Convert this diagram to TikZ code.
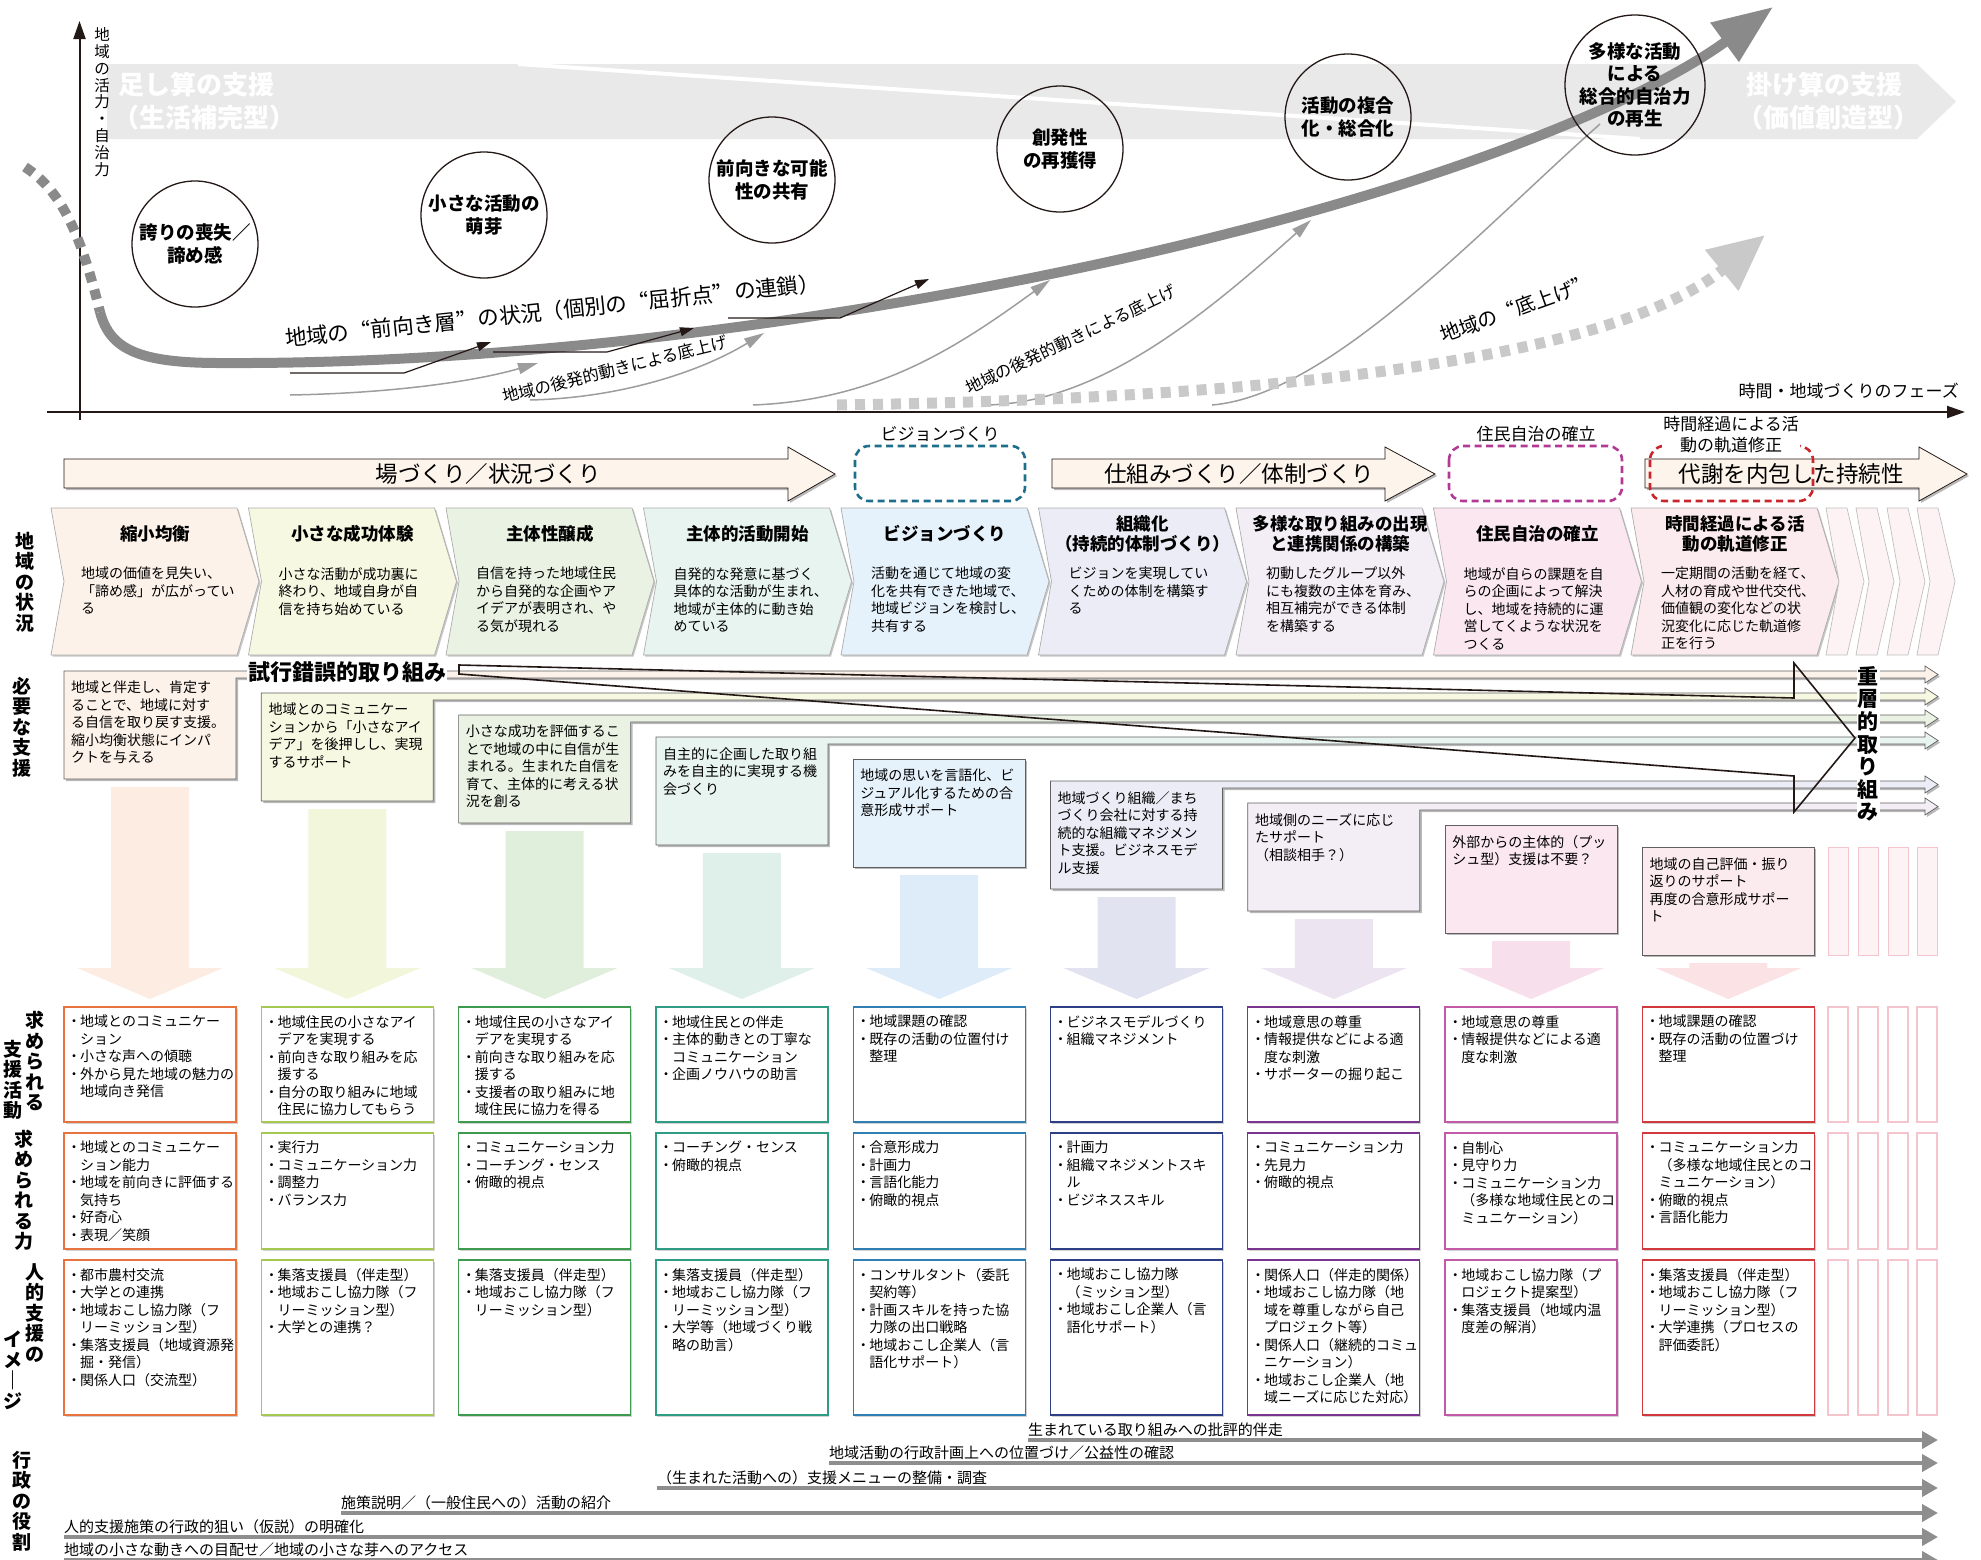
\documentclass[tikz,border=0pt]{standalone}
\usepackage{fontspec}
\setmainfont{Noto Sans CJK JP}
\usetikzlibrary{
    arrows.meta,
    positioning
}
\definecolor{pa1}{HTML}{FDF2EA}
\definecolor{pa2}{HTML}{F6F8E1}
\definecolor{pa3}{HTML}{E9F2E3}
\definecolor{pa4}{HTML}{E8F4EF}
\definecolor{pa5}{HTML}{E6F2FB}
\definecolor{pa6}{HTML}{ECECF6}
\definecolor{pa7}{HTML}{F3EDF6}
\definecolor{pa8}{HTML}{FAE7F0}
\definecolor{pa9}{HTML}{FCEBEE}
\definecolor{pa10}{HTML}{FDF3F5}
\definecolor{bd1}{HTML}{E8733F}
\definecolor{bd2}{HTML}{A5C850}
\definecolor{bd3}{HTML}{3E9A4E}
\definecolor{bd4}{HTML}{2F9C86}
\definecolor{bd5}{HTML}{2F7FB5}
\definecolor{bd6}{HTML}{2F3F85}
\definecolor{bd7}{HTML}{7B3590}
\definecolor{bd8}{HTML}{C25AA8}
\definecolor{bd9}{HTML}{D2393C}
\definecolor{bd10}{HTML}{F4C5CD}
\definecolor{bandc}{HTML}{E9E9E9}
\definecolor{curvec}{HTML}{8A8A8A}
\definecolor{liftc}{HTML}{C9C9C9}
\definecolor{thinc}{HTML}{9D9D9D}
\definecolor{ink}{HTML}{231815}
\definecolor{admc}{HTML}{8E8E8E}
\definecolor{phasefill}{HTML}{FDF4EC}
\definecolor{visionc}{HTML}{1F6E8C}
\definecolor{selfc}{HTML}{B23A95}
\definecolor{revc}{HTML}{C9252C}
\newcommand\dotitem{\makebox[10pt][l]{\hspace*{-3pt}・}}
\newcommand\dotind{\hspace*{10pt}}

\begin{document}
\begin{tikzpicture}[x=1pt,y=-1pt,
    every node/.style={inner sep=0pt},
    circ/.style={circle,draw=ink,line width=1.3pt,minimum size=126pt,align=center,font=\bfseries\fontsize{18.5}{22.5}\selectfont},
    bandtxt/.style={text=white,anchor=west,font=\bfseries\fontsize{26}{30}\selectfont},
    thinarr/.style={draw=thinc,line width=1.5pt,-{Triangle[length=20pt,width=11pt]}},
    kink/.style={draw=ink,line width=1.2pt,-{Triangle[length=14pt,width=9pt]}},
    liftlab/.style={anchor=base west,font=\fontsize{16.5}{20}\selectfont},
    phasetxt/.style={font=\fontsize{22.5}{26}\selectfont},
    dlab/.style={fill=white,inner sep=1pt,align=center,font=\fontsize{17}{21}\selectfont},
    ttl/.style={align=center,font=\bfseries\fontsize{17.5}{19.5}\selectfont},
    body/.style={anchor=north west,align=left,font=\fontsize{14}{17.5}\selectfont},
    rowlab/.style={align=center,font=\bfseries\fontsize{19}{20.5}\selectfont},
    adm/.style={draw=admc,line width=4.5pt,-{Triangle[length=16pt,width=17pt]}},
    admtxt/.style={anchor=base west,font=\fontsize{15}{18}\selectfont}]
\useasboundingbox (0,0) rectangle (1981,1559);

% top chart
\fill[bandc] (107,64) -- (1917,64) -- (1956,101.5) -- (1917,139) -- (107,139) -- cycle;
\draw[white,line width=4pt] (518,64) -- (1640,139);
\node[bandtxt] (addA) at (118,85) {足し算の支援};
\node[bandtxt] (addB) at (113,118) {（生活補完型）};
\node[bandtxt] (mulA) at (1746,85) {掛け算の支援};
\node[bandtxt] (mulB) at (1737,118) {（価値創造型）};

\draw[ink,line width=2pt,-{Triangle[length=18pt,width=12pt]}] (47,412) -- (1965,412);
\draw[ink,line width=2pt,-{Triangle[length=18pt,width=12pt]}] (79.5,420) -- (79.5,21);
\node[align=center,font=\fontsize{15.5}{16.8}\selectfont] (ylab) at (102,102) {地\\域\\の\\活\\力\\・\\自\\治\\力};
\node[anchor=base east,font=\fontsize{17}{20}\selectfont] (xlab) at (1959,397) {時間・地域づくりのフェーズ};

\draw[thinarr] (290,395) .. controls (400,393) and (480,380) .. (538,363);
\draw[thinarr] (530,400) .. controls (620,398) and (700,372) .. (764,333);
\draw[thinarr] (753,405) .. controls (880,400) and (960,345) .. (1050,280);
\draw[thinarr] (983,405) .. controls (1100,405) and (1210,310) .. (1311,220);
\draw[thinc,line width=1.5pt] (1212,405) .. controls (1330,395) and (1480,230) .. (1600,124);

\draw[liftc,line width=11pt,dash pattern=on 10pt off 8pt,-{Triangle[length=56pt,width=50pt]}] (837,405) .. controls (1200,400) and (1600,370) .. (1765,235);
\draw[curvec,line width=10pt,dash pattern=on 10pt off 8pt] (25,167) .. controls (60,190) and (80,230) .. (100,312);
\draw[curvec,line width=10pt,-{Triangle[length=60pt,width=46pt]}] (100,312) .. controls (110,350) and (140,363) .. (220,363) .. controls (600,365) and (1000,292) .. (1230,233) .. controls (1450,178) and (1640,104) .. (1773,7);

\node[circ] (c1) at (195,244) {誇りの喪失／\\諦め感};
\node[circ] (c2) at (484,215) {小さな活動の\\萌芽};
\node[circ] (c3) at (772,180) {前向きな可能\\性の共有};
\node[circ] (c4) at (1060,149) {創発性\\の再獲得};
\node[circ] (c5) at (1348,117) {活動の複合\\化・総合化};
\node[circ] (c6) at (1635,85) {多様な活動\\による\\総合的自治力\\の再生};

\draw[kink] (290,373) -- (404,373) -- (491,342);
\draw[kink] (493,352) -- (607,352) -- (694,328);
\draw[kink] (728,318) -- (840,318) -- (929,279);

\node[anchor=base west,rotate=6,font=\fontsize{21.5}{24}\selectfont\addfontfeatures{CharacterWidth=Full}] (front) at (286,347) {地域の“前向き層”の状況（個別の“屈折点”の連鎖）};
\node[liftlab,rotate=13.8] (late1) at (504,403) {地域の後発的動きによる底上げ};
\node[liftlab,rotate=25.5] (late2) at (969,395) {地域の後発的動きによる底上げ};
\node[liftlab,rotate=19.7,font=\fontsize{20}{24}\selectfont\addfontfeatures{CharacterWidth=Full}] (lift) at (1443,343) {地域の“底上げ”};

% phases
\foreach \a/\b/\tp/\m/\txt [count=\k] in {64/788/835/488/場づくり／状況づくり,1052/1385/1435/1239/仕組みづくり／体制づくり,1645/1919/1967/1791/代謝を内包した持続性}{
    \fill[gray!55,shift={(2,2)}] (\a,459) -- (\b,459) -- (\b,447) -- (\tp,474) -- (\b,501) -- (\b,488) -- (\a,488) -- cycle;
    \filldraw[fill=phasefill,draw=ink,line width=0.8pt] (\a,459) -- (\b,459) -- (\b,447) -- (\tp,474) -- (\b,501) -- (\b,488) -- (\a,488) -- cycle;
    \node[phasetxt] (ph\k) at (\m,474) {\txt};
}
\draw[visionc,line width=2.6pt,dash pattern=on 7pt off 4.5pt,rounded corners=14pt] (855,446) rectangle (1025,501);
\draw[selfc,line width=2.6pt,dash pattern=on 7pt off 4.5pt,rounded corners=14pt] (1449,446) rectangle (1622,501);
\draw[revc,line width=2.6pt,dash pattern=on 7pt off 4.5pt,rounded corners=14pt] (1650,446) rectangle (1813,501);
\node[dlab] (dvision) at (940,434) {ビジョンづくり};
\node[dlab] (dself) at (1536,434) {住民自治の確立};
\node[dlab] (drev) at (1731,434.5) {時間経過による活\\動の軌道修正};

% status chevrons
\foreach \i/\col/\hd/\txt in {
    0/pa1/{縮小均衡}/{地域の価値を見失い、\\「諦め感」が広がってい\\る},
    1/pa2/{小さな成功体験}/{小さな活動が成功裏に\\終わり、地域自身が自\\信を持ち始めている},
    2/pa3/{主体性醸成}/{自信を持った地域住民\\から自発的な企画やア\\イデアが表明され、や\\る気が現れる},
    3/pa4/{主体的活動開始}/{自発的な発意に基づく\\具体的な活動が生まれ、\\地域が主体的に動き始\\めている},
    4/pa5/{ビジョンづくり}/{活動を通じて地域の変\\化を共有できた地域で、\\地域ビジョンを検討し、\\共有する},
    5/pa6/{組織化\\（持続的体制づくり）}/{ビジョンを実現してい\\くための体制を構築す\\る},
    6/pa7/{多様な取り組みの出現\\と連携関係の構築}/{初動したグループ以外\\にも複数の主体を育み、\\相互補完ができる体制\\を構築する},
    7/pa8/{住民自治の確立}/{地域が自らの課題を自\\らの企画によって解決\\し、地域を持続的に運\\営してくような状況を\\つくる},
    8/pa9/{時間経過による活\\動の軌道修正}/{一定期間の活動を経て、\\人材の育成や世代交代、\\価値観の変化などの状\\況変化に応じた軌道修\\正を行う}}{
    \pgfmathsetmacro\cx{51+197.5*\i}
    \fill[gray!45,shift={(1.5,1.5)}] (\cx,508) -- ++(186,0) -- ++(22,73.5) -- ++(-22,73.5) -- ++(-186,0) -- ++(13,-73.5) -- cycle;
    \filldraw[fill=\col,draw=gray!65,line width=0.7pt] (\cx,508) -- ++(186,0) -- ++(22,73.5) -- ++(-22,73.5) -- ++(-186,0) -- ++(13,-73.5) -- cycle;
    \node[ttl] (st\i) at (\cx+104,534) {\hd};
    \node[body] (sb\i) at (\cx+30,567) {\txt};
}
\foreach \cx in {1826,1856,1887,1917}{
    \filldraw[fill=pa10,draw=gray!50,line width=0.7pt] (\cx,508) -- ++(21,0) -- ++(17,73.5) -- ++(-17,73.5) -- ++(-21,0) -- ++(13,-73.5) -- cycle;
}

% column arrows
\foreach \i/\col/\bdc in {0/pa1/bd1,1/pa2/bd2,2/pa3/bd3,3/pa4/bd4,4/pa5/bd5,5/pa6/bd6,6/pa7/bd7,7/pa8/bd8,8/pa9/bd9}{
    \pgfmathsetmacro\ax{150+197.3*\i}
    \pgfmathsetmacro\ay{671+22*\i+116}
    \fill[\col!95!\bdc] (\ax-39,\ay) -- (\ax+39,\ay) -- (\ax+39,968) -- (\ax+73,968) -- (\ax,999) -- (\ax-73,968) -- (\ax-39,968) -- cycle;
}

% needed support
\foreach \i/\col/\bd/\txt in {
    0/pa1/1/{地域と伴走し、肯定す\\ることで、地域に対す\\る自信を取り戻す支援。\\縮小均衡状態にインパ\\クトを与える},
    1/pa2/1/{地域とのコミュニケー\\ションから「小さなアイ\\デア」を後押しし、実現\\するサポート},
    2/pa3/1/{小さな成功を評価するこ\\とで地域の中に自信が生\\まれる。生まれた自信を\\育て、主体的に考える状\\況を創る},
    3/pa4/1/{自主的に企画した取り組\\みを自主的に実現する機\\会づくり},
    4/pa5/0/{地域の思いを言語化、ビ\\ジュアル化するための合\\意形成サポート},
    5/pa6/1/{地域づくり組織／まち\\づくり会社に対する持\\続的な組織マネジメン\\ト支援。ビジネスモデ\\ル支援},
    6/pa7/1/{地域側のニーズに応じ\\たサポート\\（相談相手？）},
    7/pa8/0/{外部からの主体的（プッ\\シュ型）支援は不要？},
    8/pa9/0/{地域の自己評価・振り\\返りのサポート\\再度の合意形成サポー\\ト}}{
    \pgfmathsetmacro\bx{64+197.3*\i}
    \pgfmathsetmacro\by{671+22*\i}
    \ifnum\bd=1
        \fill[gray!55,shift={(2,2)}] (\bx,\by+108) -- (\bx,\by) -- (1925,\by) -- (1925,\by-5) -- (1938,\by+3.5) -- (1925,\by+12) -- (1925,\by+7) -- (\bx+172,\by+7) -- (\bx+172,\by+108) -- cycle;
        \filldraw[fill=\col,draw=gray!75!black,line width=0.7pt] (\bx,\by+108) -- (\bx,\by) -- (1925,\by) -- (1925,\by-5) -- (1938,\by+3.5) -- (1925,\by+12) -- (1925,\by+7) -- (\bx+172,\by+7) -- (\bx+172,\by+108) -- cycle;
    \else
        \fill[gray!55,shift={(2,2)}] (\bx,\by) rectangle ++(172,108);
        \filldraw[fill=\col,draw=gray!75!black,line width=0.7pt] (\bx,\by) rectangle ++(172,108);
    \fi
    \node[body] (nb\i) at (\bx+7,\by+10) {\txt};
}
\foreach \nx in {1828,1858,1888,1917}{
    \filldraw[fill=pa10,draw=bd10,line width=1pt] (\nx,847) rectangle ++(20,108);
}
\node[fill=white,inner sep=1pt,font=\bfseries\fontsize{22}{24}\selectfont] (trial) at (347,672) {試行錯誤的取り組み};
\draw[ink,line width=1.6pt] (459,674) -- (459,665) -- (1794,698) -- (1794,663) -- (1855,738) -- (1794,812) -- (1794,776) -- cycle;
\node[fill=white,inner sep=1pt,align=center,font=\bfseries\fontsize{21}{22.6}\selectfont] (layer) at (1868,744) {重\\層\\的\\取\\り\\組\\み};

% lower table
\foreach \i/\txt in {
    1/{\dotitem 地域とのコミュニケー\\\dotind ション\\\dotitem 小さな声への傾聴\\\dotitem 外から見た地域の魅力の\\\dotind 地域向き発信},
    2/{\dotitem 地域住民の小さなアイ\\\dotind デアを実現する\\\dotitem 前向きな取り組みを応\\\dotind 援する\\\dotitem 自分の取り組みに地域\\\dotind 住民に協力してもらう},
    3/{\dotitem 地域住民の小さなアイ\\\dotind デアを実現する\\\dotitem 前向きな取り組みを応\\\dotind 援する\\\dotitem 支援者の取り組みに地\\\dotind 域住民に協力を得る},
    4/{\dotitem 地域住民との伴走\\\dotitem 主体的動きとの丁寧な\\\dotind コミュニケーション\\\dotitem 企画ノウハウの助言},
    5/{\dotitem 地域課題の確認\\\dotitem 既存の活動の位置付け\\\dotind 整理},
    6/{\dotitem ビジネスモデルづくり\\\dotitem 組織マネジメント},
    7/{\dotitem 地域意思の尊重\\\dotitem 情報提供などによる適\\\dotind 度な刺激\\\dotitem サポーターの掘り起こ},
    8/{\dotitem 地域意思の尊重\\\dotitem 情報提供などによる適\\\dotind 度な刺激},
    9/{\dotitem 地域課題の確認\\\dotitem 既存の活動の位置づけ\\\dotind 整理}}{
    \pgfmathsetmacro\bx{64+197.3*(\i-1)}
    \fill[gray!35,shift={(1.5,1.5)}] (\bx,1007) rectangle ++(172,115);
    \filldraw[fill=white,draw=bd\i,line width=1.3pt] (\bx,1007) rectangle ++(172,115);
    \node[body] (ra\i) at (\bx+6,1015) {\txt};
}
\foreach \i/\txt in {
    1/{\dotitem 地域とのコミュニケー\\\dotind ション能力\\\dotitem 地域を前向きに評価する\\\dotind 気持ち\\\dotitem 好奇心\\\dotitem 表現／笑顔},
    2/{\dotitem 実行力\\\dotitem コミュニケーション力\\\dotitem 調整力\\\dotitem バランス力},
    3/{\dotitem コミュニケーション力\\\dotitem コーチング・センス\\\dotitem 俯瞰的視点},
    4/{\dotitem コーチング・センス\\\dotitem 俯瞰的視点},
    5/{\dotitem 合意形成力\\\dotitem 計画力\\\dotitem 言語化能力\\\dotitem 俯瞰的視点},
    6/{\dotitem 計画力\\\dotitem 組織マネジメントスキ\\\dotind ル\\\dotitem ビジネススキル},
    7/{\dotitem コミュニケーション力\\\dotitem 先見力\\\dotitem 俯瞰的視点},
    8/{\dotitem 自制心\\\dotitem 見守り力\\\dotitem コミュニケーション力\\\dotind （多様な地域住民とのコ\\\dotind ミュニケーション）},
    9/{\dotitem コミュニケーション力\\\dotind （多様な地域住民とのコ\\\dotind ミュニケーション）\\\dotitem 俯瞰的視点\\\dotitem 言語化能力}}{
    \pgfmathsetmacro\bx{64+197.3*(\i-1)}
    \fill[gray!35,shift={(1.5,1.5)}] (\bx,1133) rectangle ++(172,116);
    \filldraw[fill=white,draw=bd\i,line width=1.3pt] (\bx,1133) rectangle ++(172,116);
    \node[body] (rb\i) at (\bx+6,1141) {\txt};
}
\foreach \i/\txt in {
    1/{\dotitem 都市農村交流\\\dotitem 大学との連携\\\dotitem 地域おこし協力隊（フ\\\dotind リーミッション型）\\\dotitem 集落支援員（地域資源発\\\dotind 掘・発信）\\\dotitem 関係人口（交流型）},
    2/{\dotitem 集落支援員（伴走型）\\\dotitem 地域おこし協力隊（フ\\\dotind リーミッション型）\\\dotitem 大学との連携？},
    3/{\dotitem 集落支援員（伴走型）\\\dotitem 地域おこし協力隊（フ\\\dotind リーミッション型）},
    4/{\dotitem 集落支援員（伴走型）\\\dotitem 地域おこし協力隊（フ\\\dotind リーミッション型）\\\dotitem 大学等（地域づくり戦\\\dotind 略の助言）},
    5/{\dotitem コンサルタント（委託\\\dotind 契約等）\\\dotitem 計画スキルを持った協\\\dotind 力隊の出口戦略\\\dotitem 地域おこし企業人（言\\\dotind 語化サポート）},
    6/{\dotitem 地域おこし協力隊\\\dotind （ミッション型）\\\dotitem 地域おこし企業人（言\\\dotind 語化サポート）},
    7/{\dotitem 関係人口（伴走的関係）\\\dotitem 地域おこし協力隊（地\\\dotind 域を尊重しながら自己\\\dotind プロジェクト等）\\\dotitem 関係人口（継続的コミュ\\\dotind ニケーション）\\\dotitem 地域おこし企業人（地\\\dotind 域ニーズに応じた対応）},
    8/{\dotitem 地域おこし協力隊（プ\\\dotind ロジェクト提案型）\\\dotitem 集落支援員（地域内温\\\dotind 度差の解消）},
    9/{\dotitem 集落支援員（伴走型）\\\dotitem 地域おこし協力隊（フ\\\dotind リーミッション型）\\\dotitem 大学連携（プロセスの\\\dotind 評価委託）}}{
    \pgfmathsetmacro\bx{64+197.3*(\i-1)}
    \fill[gray!35,shift={(1.5,1.5)}] (\bx,1260) rectangle ++(172,155);
    \filldraw[fill=white,draw=bd\i,line width=1.3pt] (\bx,1260) rectangle ++(172,155);
    \node[body] (rc\i) at (\bx+6,1268) {\txt};
}
\foreach \nx in {1828,1858,1888,1917}{
    \draw[bd10,line width=1.2pt] (\nx,1007) rectangle ++(20,115);
    \draw[bd10,line width=1.2pt] (\nx,1133) rectangle ++(20,116);
    \draw[bd10,line width=1.2pt] (\nx,1260) rectangle ++(20,155);
}

% administration
\foreach \xs/\yy/\txt [count=\k] in {1028/1440/生まれている取り組みへの批評的伴走,829/1463/地域活動の行政計画上への位置づけ／公益性の確認,657/1488/（生まれた活動への）支援メニューの整備・調査,341/1513/施策説明／（一般住民への）活動の紹介,64/1537/人的支援施策の行政的狙い（仮説）の明確化,64/1560/地域の小さな動きへの目配せ／地域の小さな芽へのアクセス}{
    \coordinate (as\k) at (\xs,\yy);
    \coordinate (ae\k) at (1938,\yy);
    \draw[adm] (as\k) -- (ae\k);
    \node[admtxt] (at\k) at (\xs,\yy-5) {\txt};
}

% row labels
\node[rowlab] (lab-area) at (25,582) {地\\域\\の\\状\\況};
\node[rowlab] (lab-need) at (22,727) {必\\要\\な\\支\\援};
\node[rowlab] (lab-act1) at (35,1061) {求\\め\\ら\\れ\\る};
\node[rowlab] (lab-act2) at (13,1080) {支\\援\\活\\動};
\node[rowlab] (lab-pow) at (24,1190) {求\\め\\ら\\れ\\る\\力};
\node[rowlab] (lab-img1) at (35,1313) {人\\的\\支\\援\\の};
\node[rowlab] (lab-img2) at (13,1370) {イ\\メ\\｜\\ジ};
\node[rowlab] (lab-adm) at (22,1501) {行\\政\\の\\役\\割};
\end{tikzpicture}
\end{document}
